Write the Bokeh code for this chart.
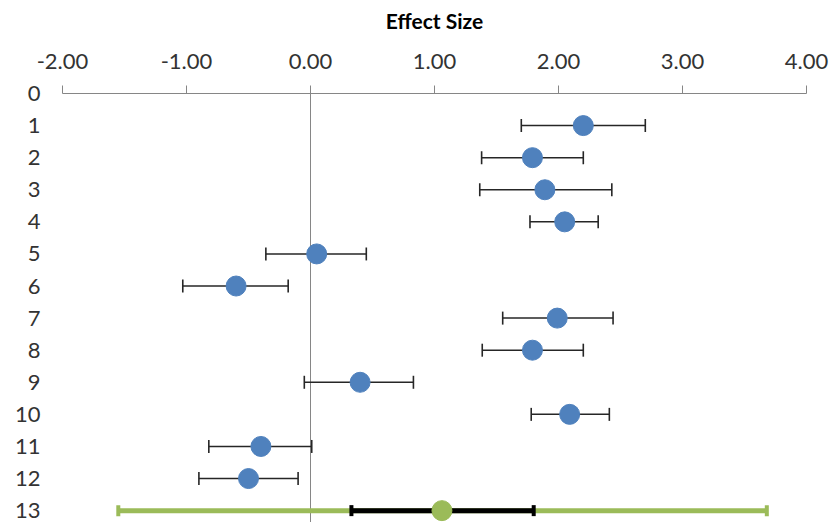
from bokeh.plotting import figure
from bokeh.models import Range1d, FixedTicker, NumeralTickFormatter, Span
from bokeh.embed import file_html
from bokeh.resources import INLINE

# ---- data ----
studies = [1, 2, 3, 4, 5, 6, 7, 8, 9, 10, 11, 12]
effect = [2.20, 1.79, 1.89, 2.05, 0.05, -0.60, 1.99, 1.79, 0.40, 2.09, -0.40, -0.50]
lower = [1.70, 1.38, 1.365, 1.77, -0.36, -1.03, 1.55, 1.385, -0.05, 1.78, -0.82, -0.90]
upper = [2.70, 2.20, 2.43, 2.32, 0.45, -0.18, 2.44, 2.20, 0.83, 2.41, 0.01, -0.10]

summary_row = [13]
summary_effect = [1.06]
summary_ci_low = [0.33]
summary_ci_high = [1.80]
summary_pi_low = [-1.55]
summary_pi_high = [3.68]

x_ticks = [-2, -1, 0, 1, 2, 3, 4]
y_ticks = list(range(0, 14))

FONT = "Lato"
AXIS_GRAY = "#868686"
TEXT = "#333333"
BLUE = "#4F81BD"
GREEN = "#9BBB59"

p = figure(width=832, height=522,
           x_range=Range1d(-2, 4), y_range=Range1d(13.37, 0),
           x_axis_location="above",
           output_backend="svg", toolbar_location=None,
           min_border_left=62, min_border_right=26,
           min_border_top=93, min_border_bottom=0)

p.grid.visible = False
p.outline_line_color = None

# x axis (top)
xa = p.xaxis[0]
xa.ticker = FixedTicker(ticks=x_ticks)
xa.formatter = NumeralTickFormatter(format="0.00")
xa.axis_label = "Effect Size"
xa.axis_label_text_font = FONT
xa.axis_label_text_font_style = "bold"
xa.axis_label_text_font_size = "21px"
xa.axis_label_text_color = "#000000"
xa.axis_label_standoff = 18
xa.major_label_text_font = FONT
xa.major_label_text_font_size = "22px"
xa.major_label_text_color = TEXT
xa.major_label_standoff = 17
xa.axis_line_color = AXIS_GRAY
xa.major_tick_line_color = AXIS_GRAY
xa.major_tick_out = 8
xa.major_tick_in = 0
xa.minor_tick_line_color = None

# y axis (left)
ya = p.yaxis[0]
ya.ticker = FixedTicker(ticks=y_ticks)
ya.major_label_text_font = FONT
ya.major_label_text_font_size = "22px"
ya.major_label_text_color = TEXT
ya.major_label_standoff = 22
ya.axis_line_color = None
ya.major_tick_line_color = None
ya.minor_tick_line_color = None
ya.major_tick_out = 0
ya.major_tick_in = 0

# zero line
p.add_layout(Span(location=0, dimension="height", line_color=AXIS_GRAY,
                  line_width=1, level="underlay"))

# study error bars
p.segment(x0=lower, y0=studies, x1=upper, y1=studies,
          line_color="#262626", line_width=1.5)
p.rect(x=lower, y=studies, width=1.6, height=13, width_units="screen",
       height_units="screen", fill_color="#262626", line_color=None)
p.rect(x=upper, y=studies, width=1.6, height=13, width_units="screen",
       height_units="screen", fill_color="#262626", line_color=None)
p.scatter(x=effect, y=studies, size=20, fill_color=BLUE, line_color=BLUE)

# summary row
p.segment(x0=summary_pi_low, y0=summary_row, x1=summary_pi_high, y1=summary_row,
          line_color=GREEN, line_width=5)
p.rect(x=summary_pi_low + summary_pi_high, y=summary_row * 2, width=4, height=11,
       width_units="screen", height_units="screen", fill_color=GREEN, line_color=None)
p.segment(x0=summary_ci_low, y0=summary_row, x1=summary_ci_high, y1=summary_row,
          line_color="#000000", line_width=5)
p.rect(x=summary_ci_low + summary_ci_high, y=summary_row * 2, width=4, height=11,
       width_units="screen", height_units="screen", fill_color="#000000", line_color=None)
p.scatter(x=summary_effect, y=summary_row, size=20, fill_color=GREEN, line_color=GREEN)

open("out.html", "w").write(file_html(p, INLINE))
